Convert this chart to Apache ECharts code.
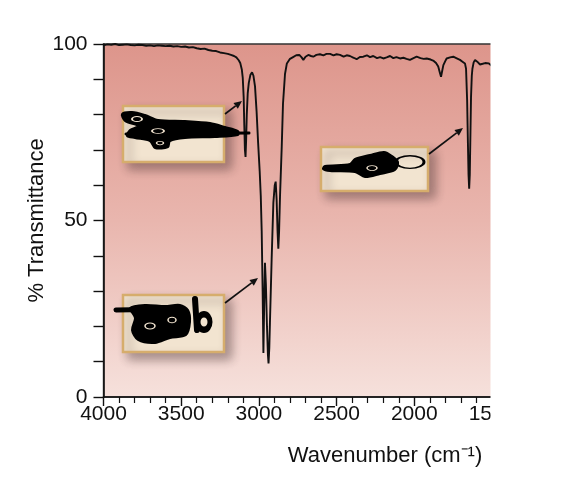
<!DOCTYPE html>
<html>
<head>
<meta charset="utf-8">
<script src="https://cdn.jsdelivr.net/npm/echarts@6/dist/echarts.min.js"></script>
<style>html,body{margin:0;padding:0;background:#fff}#c{width:569px;height:479px}</style>
</head>
<body>
<div id="c"></div>
<script>
// ---- data ----
const wavenumbers = [4000,3975,3950,3925,3900,3875,3850,3825,3800,3775,3750,3725,3700,3675,3650,3625,3600,3575,3550,3525,3500,3475,3450,3425,3400,3375,3350,3325,3300,3275,3250,3225,3200,3180,3160,3145,3130,3120,3110,3104,3098,3094,3090,3086,3082,3078,3072,3065,3055,3044,3035,3025,3015,3005,2995,2988,2982,2976,2971,2966,2961,2955,2948,2942,2938,2933,2929,2918,2907,2898,2892,2886,2880,2875,2870,2864,2853,2845,2832,2820,2800,2780,2760,2740,2725,2714,2700,2682,2665,2650,2630,2607,2585,2565,2542,2520,2500,2478,2455,2435,2414,2390,2371,2350,2328,2305,2285,2264,2240,2220,2199,2178,2156,2135,2115,2092,2070,2050,2028,2005,1985,1960,1940,1920,1895,1875,1860,1846,1835,1828,1820,1813,1800,1792,1770,1749,1730,1706,1690,1674,1667,1660,1655,1651,1647,1643,1639,1635,1630,1626,1618,1609,1595,1577,1560,1544,1532,1520,1513,1500];
const transmittance = [99.6,99.9,99.8,100,99.7,99.8,99.9,99.7,99.6,99.8,99.7,99.5,99.6,99.4,99.6,99.5,99.4,99.5,99.3,99.4,99.2,99.3,99.0,99.1,98.8,98.6,98.7,98.3,98.1,98.0,97.6,97.4,97.2,96.9,96.6,96.2,95.4,94.6,92.8,90.5,85,77,70,68,73,80,86,89,91.2,92,91,88,81,72,64,57,47,30,12.5,26,38,32,20,12,9.5,14,21,39,55,60,61,56,47,42,47,57,71,83,91.5,94.5,95.8,96.3,96.8,96.9,96.2,95.5,96.4,96.9,96.6,96.4,96.9,97.1,96.8,97.2,97.2,96.8,97.1,96.9,96.4,96.8,96.6,96.1,95.7,96.3,96.4,96.8,96.3,96.6,96.0,96.3,95.9,96.2,96.6,96.0,96.3,95.9,96.1,95.8,95.5,96.0,96.4,96.0,95.8,95.9,95.6,95.2,94.6,93.6,91.8,90.7,92.5,94.0,95.2,95.9,96.2,96.4,96.0,95.5,95.0,94.5,93.0,84,72,63,59,63,74,85,91,93,94.8,95.5,95.0,94.2,94.4,94.6,95.0,94.5,94.0,93.8];
const xTickValues = [4000, 3500, 3000, 2500, 2000, 1500];
const yTickLabels = [0, 50, 100];
const yAxisTitle = '% Transmittance';
const xAxisTitle = 'Wavenumber (cm\u207B\u00B9)';

// ---- chart ----
const FONT = '"Liberation Sans", Arial, Helvetica, sans-serif';
const CREAM = '#f2e4d0';
const chart = echarts.init(document.getElementById('c'), null, {renderer: 'canvas'});

function arrow(x1, y1, x2, y2) {
  const dx = x2 - x1, dy = y2 - y1, L = Math.hypot(dx, dy);
  const ux = dx / L, uy = dy / L, h = 8, w = 3.6;
  const bx = x2 - ux * h, by = y2 - uy * h;
  return [
    {type: 'line', z: 60, shape: {x1: x1, y1: y1, x2: bx, y2: by}, style: {stroke: '#111', lineWidth: 1.7}},
    {type: 'polygon', z: 60, shape: {points: [[x2, y2], [bx - uy * w, by + ux * w], [bx + uy * w, by - ux * w]]}, style: {fill: '#111'}}
  ];
}
function box(x, y, w, h) {
  return {type: 'rect', z: 50, shape: {x: x, y: y, width: w, height: h},
    style: {fill: CREAM, stroke: '#d6ad6c', lineWidth: 2.5,
      shadowBlur: 10, shadowOffsetX: 6, shadowOffsetY: 6, shadowColor: 'rgba(70,50,50,0.45)'}};
}
function scrib(points, width) {
  return {type: 'polyline', z: 55, shape: {points: points},
    style: {stroke: '#000', lineWidth: width, lineCap: 'round', lineJoin: 'round', fill: null}};
}
function blob(points) {
  return {type: 'polygon', z: 55, shape: {points: points, smooth: 0.3},
    style: {fill: '#000', stroke: '#000', lineWidth: 2, lineJoin: 'round'}};
}
function loop(cx, cy, r, sy, width, color) {
  return {type: 'circle', z: 56, x: cx, y: cy, scaleY: sy, shape: {cx: 0, cy: 0, r: r},
    style: {stroke: color || '#000', lineWidth: width, fill: null}};
}

const graphics = [].concat(
  [box(123, 106, 101, 56), box(321, 147, 107, 44), box(123, 295, 101, 57)],
  [
    // scribbles (redacted labels)
    blob([[122,114],[132,112],[145,115],[158,120],[185,121],[210,123],[225,127],[238,131],[238,135],[215,137],[185,138],[170,141],[168,147],[155,148],[150,141],[135,138],[127,136],[130,130],[138,126],[125,121]]),
    scrib([[126,134],[249,133]], 3),
    loop(137, 119, 5, 0.5, 2, CREAM),
    loop(158, 131, 6, 0.4, 2, CREAM),
    loop(160, 143, 3.5, 0.5, 1.5, CREAM),

    blob([[325,166],[350,164],[355,159],[370,155],[384,152],[392,156],[398,162],[395,170],[380,174],[365,177],[355,172],[330,171],[323,169]]),
    loop(410, 162, 14, 0.45, 3),
    loop(372, 168, 5, 0.5, 1.5, CREAM),

    scrib([[116,310],[178,309]], 5),
    blob([[130,308],[145,305],[165,306],[180,305],[188,310],[190,322],[186,335],[170,338],[155,343],[138,340],[132,330],[135,318]]),
    loop(150, 326, 5, 0.6, 1.5, CREAM),
    loop(172, 320, 4, 0.7, 1.5, CREAM),
    scrib([[195,299],[197,330]], 6),
    loop(204, 322, 6, 1.3, 5)
  ],
  arrow(225, 114, 242, 101),
  arrow(429, 154, 463, 128),
  arrow(225, 303, 258, 278),
  [
    {type: 'rect', z: 100, shape: {x: 490.5, y: 0, width: 80, height: 479}, style: {fill: '#fff'}},
    {type: 'text', z: 100, x: 385, y: 456,
      style: {text: xAxisTitle, font: '22px ' + FONT, fill: '#111', align: 'center', verticalAlign: 'middle'}}
  ]
);

chart.setOption({
  animation: false,
  backgroundColor: '#fff',
  grid: {
    left: 103.5, top: 44, right: 77, bottom: 82,
    show: true, borderWidth: 1.4, borderColor: '#333',
    backgroundColor: new echarts.graphic.LinearGradient(0, 0, 0, 1, [
      {offset: 0, color: '#dd958b'},
      {offset: 0.5, color: '#e9b6ae'},
      {offset: 1, color: '#f6e1dc'}
    ])
  },
  xAxis: {
    type: 'value', inverse: true, min: 1500, max: 4000, interval: 500,
    axisLine: {show: true, onZero: false, lineStyle: {color: '#111', width: 1.6}},
    axisTick: {show: true, length: 9, lineStyle: {color: '#111', width: 1.4}},
    minorTick: {show: true, splitNumber: 5, length: 6, lineStyle: {color: '#111', width: 1.2}},
    splitLine: {show: false},
    axisLabel: {
      margin: 7, color: '#111', fontSize: 21, fontFamily: FONT,
      formatter: v => xTickValues.indexOf(v) >= 0 ? String(v) : ''
    }
  },
  yAxis: {
    type: 'value', min: 0, max: 100, interval: 10,
    name: yAxisTitle, nameLocation: 'middle', nameRotate: 90, nameGap: 56,
    nameMoveOverlap: false,
    nameTextStyle: {fontSize: 22, fontFamily: FONT, color: '#111'},
    axisLine: {show: true, onZero: false, lineStyle: {color: '#111', width: 1.6}},
    axisTick: {show: true, length: 10, lineStyle: {color: '#111', width: 1.4}},
    splitLine: {show: false},
    axisLabel: {
      margin: 16, color: '#111', fontSize: 21, fontFamily: FONT,
      formatter: v => yTickLabels.indexOf(v) >= 0 ? String(v) : ''
    }
  },
  series: [{
    type: 'line',
    data: wavenumbers.map((w, i) => [w, transmittance[i]]),
    showSymbol: false, symbol: 'none', smooth: false, clip: true,
    lineStyle: {color: '#111', width: 1.9},
    z: 5
  }],
  graphic: graphics
});
</script>
</body>
</html>
